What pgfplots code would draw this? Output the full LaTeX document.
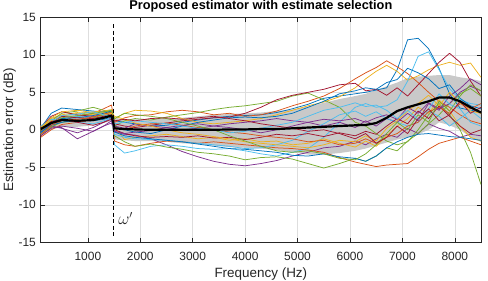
\documentclass[border=0pt]{standalone}
\usepackage{fontspec}
\setmainfont{Liberation Sans}
\usepackage{pgfplots}
\pgfplotsset{compat=1.18}
\usepgfplotslibrary{fillbetween}
\usepackage{pgfplotstable}
\definecolor{c1}{rgb}{0,0.447,0.741}
\definecolor{c2}{rgb}{0.85,0.325,0.098}
\definecolor{c3}{rgb}{0.929,0.694,0.125}
\definecolor{c4}{rgb}{0.494,0.184,0.556}
\definecolor{c5}{rgb}{0.466,0.674,0.188}
\definecolor{c6}{rgb}{0.301,0.745,0.933}
\definecolor{c7}{rgb}{0.635,0.078,0.184}
\pgfplotstableread{
f mean up lo
100 0.1 0.6 -0.6
300 0.9 1.6 0.0
500 1.3 2.0 0.4
800 1.2 2.0 0.4
1100 1.3 2.2 0.6
1300 1.6 2.5 0.9
1450 1.9 2.6 1.2
1510 0.2 1.6 -1.3
1700 0.1 1.4 -1.4
1900 0.05 1.4 -1.5
2200 0.0 1.4 -1.5
2500 0.0 1.5 -1.6
2800 0.0 1.6 -1.8
3100 0.0 1.8 -1.9
3400 0.0 2.0 -2.1
3700 0.05 2.1 -2.3
4000 0.05 2.2 -2.4
4300 0.1 2.3 -2.5
4600 0.1 2.5 -2.7
4900 0.2 2.7 -3.0
5200 0.3 3.1 -3.3
5500 0.4 3.6 -3.3
5800 0.5 4.1 -3.1
6100 0.6 4.5 -2.8
6300 0.65 4.8 -2.5
6500 0.9 5.3 -2.1
6700 1.6 5.8 -1.7
6900 2.5 6.3 -1.3
7100 3.0 6.9 -1.0
7300 3.4 7.1 -0.6
7500 3.8 7.2 0.0
7700 4.3 7.3 1.0
7900 4.3 7.3 0.6
8100 3.8 7.0 0.0
8300 3.0 6.8 -1.0
8500 2.3 6.5 -1.6
}\band
\begin{document}
\begin{tikzpicture}
\begin{axis}[
  scale only axis, width=440.3bp, height=225bp,
  xmin=100, xmax=8500, ymin=-15, ymax=15,
  xtick={1000,2000,3000,4000,5000,6000,7000,8000},
  ytick={-15,-10,-5,0,5,10,15},
  /pgf/number format/assume math mode=true,
  /pgf/number format/1000 sep={},
  tick label style={font=\fontsize{12}{14}\selectfont, color=black!85},
  xticklabel style={anchor=base, yshift=-17.7bp},
  yticklabel style={anchor=east, inner sep=0pt, xshift=-4.7bp},
  tick align=inside, major tick length=4.4bp,
  tick style={color=black!85, line width=0.5bp},
  axis line style={color=black!85, line width=0.6bp},
  grid=major, major grid style={line width=0.5bp, color=black!13},
  xlabel={Frequency (Hz)}, ylabel={Estimation error (dB)},
  label style={font=\fontsize{13.5}{15}\selectfont, color=black!85},
  xlabel style={at={(axis description cs:0.5,-0.1564)}, anchor=base},
  ylabel style={at={(axis description cs:-0.0627,0.5)}, anchor=base},
  title={Proposed estimator with estimate selection},
  title style={font=\fontsize{12.8}{14}\selectfont\bfseries, at={(axis description cs:0.5,1.007)}, anchor=base, inner sep=0pt},
  every axis plot/.append style={no markers, line width=0.75bp, line join=round},
]
\coordinate (bl) at (rel axis cs:0,0);
\coordinate (tr) at (rel axis cs:1,1);
\addplot[name path=up, draw=none] table[x=f, y=up] {\band};
\addplot[name path=lo, draw=none] table[x=f, y=lo] {\band};
\addplot[fill=black!21, draw=none] fill between[of=up and lo];

\addplot[c1] coordinates {(100,0.2)(300,2.2)(500,2.9)(800,2.7)(1100,2.5)(1300,2.4)(1450,2.5)(1510,1.2)(1700,1.0)(1900,0.8)(2200,0.5)(2500,0.6)(2800,1.0)(3100,1.3)(3400,1.6)(3700,1.8)(4000,1.9)(4300,2.0)(4600,2.3)(4900,2.8)(5200,3.4)(5500,4.2)(5800,4.5)(6100,4.8)(6300,5.0)(6500,5.3)(6700,5.6)(6900,8.0)(7100,12.0)(7300,12.2)(7500,10.8)(7700,8.2)(7900,4.8)(8100,2.9)(8300,2.6)(8500,2.4)};
\addplot[c2] coordinates {(100,-0.8)(300,0.3)(500,1.2)(800,1.8)(1100,2.2)(1300,2.8)(1450,3.3)(1510,1.0)(1700,1.6)(1900,1.9)(2200,2.0)(2500,2.4)(2800,2.6)(3100,2.4)(3400,2.0)(3700,2.2)(4000,1.8)(4300,2.0)(4600,2.5)(4900,3.2)(5200,3.8)(5500,4.5)(5800,5.5)(6100,6.8)(6300,7.6)(6500,8.3)(6700,9.2)(6900,8.4)(7100,7.5)(7300,6.3)(7500,5.0)(7700,3.8)(7900,3.0)(8100,2.0)(8300,1.2)(8500,0.8)};
\addplot[c3] coordinates {(100,0.1)(300,1.5)(500,2.0)(800,2.3)(1100,2.0)(1300,2.3)(1450,2.6)(1510,1.5)(1700,2.2)(1900,2.6)(2200,2.5)(2500,2.2)(2800,1.5)(3100,1.0)(3400,0.8)(3700,1.0)(4000,1.2)(4300,1.5)(4600,2.0)(4900,2.6)(5200,3.2)(5500,3.7)(5800,4.4)(6100,5.6)(6300,6.8)(6500,7.8)(6700,8.6)(6900,7.8)(7100,6.6)(7300,7.2)(7500,8.0)(7700,8.6)(7900,9.0)(8100,8.6)(8300,8.9)(8500,7.0)};
\addplot[c4] coordinates {(100,-0.3)(300,0.4)(500,0.3)(800,-1.2)(1100,-0.2)(1300,0.5)(1450,0.9)(1510,-0.3)(1700,-0.6)(1900,-0.7)(2200,-1.2)(2500,-2.0)(2800,-2.9)(3100,-3.6)(3400,-4.2)(3700,-4.6)(4000,-4.8)(4300,-4.5)(4600,-4.1)(4900,-3.5)(5200,-3.0)(5500,-2.4)(5800,-2.2)(6100,-1.5)(6300,-2.0)(6500,-1.2)(6700,-0.6)(6900,-1.0)(7100,0.2)(7300,-0.5)(7500,0.8)(7700,0.2)(7900,-0.2)(8100,-1.0)(8300,-0.6)(8500,-0.8)};
\addplot[c5] coordinates {(100,0.0)(300,1.2)(500,2.2)(800,2.5)(1100,3.0)(1300,2.6)(1450,2.4)(1510,0.5)(1700,1.2)(1900,1.5)(2200,1.3)(2500,1.7)(2800,2.0)(3100,2.3)(3400,2.7)(3700,3.0)(4000,3.2)(4300,3.5)(4600,3.8)(4900,4.5)(5200,4.9)(5500,4.0)(5800,3.0)(6100,1.0)(6300,0.5)(6500,-0.5)(6700,-1.5)(6900,-2.0)(7100,-1.6)(7300,0.0)(7500,2.0)(7700,3.5)(7900,2.0)(8100,0.0)(8300,-3.0)(8500,-7.3)};
\addplot[c6] coordinates {(100,-0.5)(300,0.5)(500,1.5)(800,1.8)(1100,1.5)(1300,1.8)(1450,2.0)(1510,-2.0)(1700,-3.1)(1900,-2.8)(2200,-2.2)(2500,-2.0)(2800,-2.2)(3100,-2.5)(3400,-2.6)(3700,-2.5)(4000,-2.8)(4300,-3.2)(4600,-3.5)(4900,-3.0)(5200,-2.5)(5500,-1.0)(5800,1.0)(6100,3.0)(6300,3.5)(6500,3.0)(6700,3.2)(6900,4.0)(7100,6.5)(7300,9.8)(7500,10.4)(7700,8.0)(7900,5.5)(8100,4.0)(8300,3.5)(8500,3.3)};
\addplot[c7] coordinates {(100,0.3)(300,1.8)(500,2.4)(800,2.0)(1100,1.8)(1300,2.0)(1450,2.4)(1510,0.8)(1700,0.5)(1900,0.3)(2200,0.6)(2500,0.9)(2800,1.2)(3100,1.4)(3400,1.6)(3700,1.7)(4000,2.2)(4300,3.0)(4600,4.0)(4900,4.6)(5200,5.0)(5500,5.4)(5800,6.0)(6100,6.2)(6300,5.2)(6500,5.4)(6700,4.6)(6900,5.6)(7100,4.5)(7300,6.0)(7500,7.5)(7700,9.0)(7900,10.2)(8100,9.0)(8300,6.5)(8500,4.5)};
\addplot[c1] coordinates {(100,-0.4)(300,0.8)(500,1.5)(800,1.6)(1100,1.9)(1300,2.2)(1450,2.5)(1510,0.2)(1700,0.0)(1900,-0.3)(2200,-0.5)(2500,0.0)(2800,0.5)(3100,1.0)(3400,1.3)(3700,1.6)(4000,1.7)(4300,1.6)(4600,1.8)(4900,2.2)(5200,3.0)(5500,3.8)(5800,4.8)(6100,5.2)(6300,5.6)(6500,5.4)(6700,6.3)(6900,6.7)(7100,8.2)(7300,7.6)(7500,6.8)(7700,5.5)(7900,6.0)(8100,4.2)(8300,3.2)(8500,2.8)};
\addplot[c2] coordinates {(100,-1.0)(300,0.0)(500,0.7)(800,1.0)(1100,1.4)(1300,1.7)(1450,2.0)(1510,-1.5)(1700,-2.0)(1900,-2.2)(2200,-1.8)(2500,-1.5)(2800,-1.6)(3100,-1.8)(3400,-1.6)(3700,-1.8)(4000,-2.0)(4300,-2.2)(4600,-2.4)(4900,-2.5)(5200,-2.7)(5500,-3.0)(5800,-3.7)(6100,-4.3)(6300,-4.6)(6500,-4.9)(6700,-4.7)(6900,-4.6)(7100,-4.5)(7300,-3.6)(7500,-2.6)(7700,-1.8)(7900,-1.4)(8100,-1.0)(8300,-1.5)(8500,-2.0)};
\addplot[c3] coordinates {(100,0.4)(300,1.2)(500,1.8)(800,2.2)(1100,2.4)(1300,2.5)(1450,2.7)(1510,0.3)(1700,-1.3)(1900,-1.0)(2200,-0.8)(2500,-0.6)(2800,-0.9)(3100,-1.2)(3400,-1.0)(3700,-1.4)(4000,-1.2)(4300,-1.6)(4600,-1.5)(4900,-2.0)(5200,-1.8)(5500,-1.2)(5800,-1.8)(6100,-2.3)(6300,-1.5)(6500,-2.2)(6700,-0.8)(6900,0.5)(7100,1.5)(7300,3.0)(7500,2.2)(7700,4.0)(7900,2.5)(8100,0.5)(8300,-1.0)(8500,-1.5)};
\addplot[c4] coordinates {(100,0.2)(300,0.5)(500,0.2)(800,-0.4)(1100,0.3)(1300,1.0)(1450,1.6)(1510,0.5)(1700,0.2)(1900,0.8)(2200,0.5)(2500,0.3)(2800,0.0)(3100,0.2)(3400,0.5)(3700,0.8)(4000,1.0)(4300,1.2)(4600,1.5)(4900,1.2)(5200,1.0)(5500,0.5)(5800,1.0)(6100,0.3)(6300,1.2)(6500,0.5)(6700,1.5)(6900,1.0)(7100,2.2)(7300,1.2)(7500,3.5)(7700,2.6)(7900,4.5)(8100,5.5)(8300,6.8)(8500,6.0)};
\addplot[c5] coordinates {(100,-0.6)(300,0.4)(500,1.0)(800,1.2)(1100,1.6)(1300,2.0)(1450,2.4)(1510,-0.8)(1700,-1.6)(1900,-2.2)(2200,-1.9)(2500,-2.3)(2800,-2.6)(3100,-3.0)(3400,-3.2)(3700,-3.5)(4000,-4.0)(4300,-3.7)(4600,-3.6)(4900,-3.9)(5200,-4.5)(5500,-5.1)(5800,-4.5)(6100,-3.8)(6300,-4.2)(6500,-3.5)(6700,-2.4)(6900,-2.8)(7100,-1.5)(7300,-0.5)(7500,0.8)(7700,2.0)(7900,3.5)(8100,4.8)(8300,5.5)(8500,4.5)};
\addplot[c6] coordinates {(100,0.5)(300,1.4)(500,1.2)(800,1.0)(1100,0.8)(1300,1.2)(1450,1.5)(1510,-0.6)(1700,-1.0)(1900,-1.2)(2200,-1.3)(2500,-1.4)(2800,-1.6)(3100,-1.8)(3400,-2.0)(3700,-2.2)(4000,-2.5)(4300,-2.4)(4600,-2.0)(4900,-1.4)(5200,-0.2)(5500,0.8)(5800,2.0)(6100,2.5)(6300,1.8)(6500,2.4)(6700,1.5)(6900,1.0)(7100,0.5)(7300,1.0)(7500,2.5)(7700,1.8)(7900,0.5)(8100,1.5)(8300,2.6)(8500,1.5)};
\addplot[c7] coordinates {(100,-0.2)(300,1.0)(500,1.8)(800,1.6)(1100,1.5)(1300,1.8)(1450,2.2)(1510,0.0)(1700,-0.5)(1900,-0.8)(2200,-1.0)(2500,-0.9)(2800,-1.0)(3100,-0.8)(3400,-1.1)(3700,-1.0)(4000,-1.3)(4300,-1.0)(4600,-0.6)(4900,-0.8)(5200,-0.5)(5500,-0.9)(5800,-0.4)(6100,-0.8)(6300,-0.2)(6500,-0.6)(6700,0.5)(6900,1.5)(7100,0.8)(7300,2.5)(7500,1.5)(7700,3.2)(7900,1.8)(8100,0.5)(8300,-0.5)(8500,0.0)};
\addplot[c1] coordinates {(100,-0.3)(300,0.6)(500,1.0)(800,1.3)(1100,1.2)(1300,1.4)(1450,1.7)(1510,-0.3)(1700,-0.8)(1900,-1.0)(2200,-1.2)(2500,-1.4)(2800,-1.6)(3100,-1.9)(3400,-2.2)(3700,-2.5)(4000,-2.6)(4300,-2.8)(4600,-3.0)(4900,-3.4)(5200,-3.5)(5500,-3.2)(5800,-3.6)(6100,-3.8)(6300,-4.2)(6500,-3.5)(6700,-2.4)(6900,-1.6)(7100,-1.0)(7300,-0.6)(7500,-0.5)(7700,-0.7)(7900,-0.9)(8100,-1.0)(8300,-1.2)(8500,-1.4)};
\addplot[c2] coordinates {(100,-0.6)(300,0.6)(500,1.3)(800,1.4)(1100,1.7)(1300,2.1)(1450,2.3)(1510,0.3)(1700,0.0)(1900,0.5)(2200,0.8)(2500,0.9)(2800,0.6)(3100,0.3)(3400,0.0)(3700,-0.3)(4000,-0.5)(4300,-0.8)(4600,-1.0)(4900,-1.2)(5200,-1.6)(5500,-1.4)(5800,-2.0)(6100,-1.8)(6300,-1.2)(6500,-1.8)(6700,-1.0)(6900,-0.5)(7100,0.5)(7300,1.0)(7500,2.4)(7700,3.0)(7900,2.2)(8100,3.5)(8300,2.8)(8500,3.5)};
\addplot[c3] coordinates {(100,0.2)(300,1.6)(500,2.4)(800,2.6)(1100,2.3)(1300,2.0)(1450,2.2)(1510,1.8)(1700,1.4)(1900,0.9)(2200,0.5)(2500,0.0)(2800,-0.4)(3100,-0.6)(3400,-0.9)(3700,-1.2)(4000,-1.6)(4300,-1.8)(4600,-2.0)(4900,-2.2)(5200,-2.4)(5500,-2.0)(5800,-1.4)(6100,-1.6)(6300,-0.8)(6500,-1.5)(6700,0.2)(6900,1.2)(7100,2.5)(7300,3.5)(7500,4.6)(7700,3.2)(7900,5.0)(8100,3.6)(8300,2.5)(8500,2.2)};
\addplot[c4] coordinates {(100,-0.8)(300,0.2)(500,0.5)(800,0.2)(1100,-0.2)(1300,0.5)(1450,1.2)(1510,-0.2)(1700,-0.5)(1900,-0.3)(2200,-0.1)(2500,0.3)(2800,0.6)(3100,0.8)(3400,0.5)(3700,0.3)(4000,0.0)(4300,-0.4)(4600,0.0)(4900,0.5)(5200,1.0)(5500,1.4)(5800,1.2)(6100,1.5)(6300,1.0)(6500,1.6)(6700,2.0)(6900,1.4)(7100,3.0)(7300,2.2)(7500,3.6)(7700,2.8)(7900,3.5)(8100,5.0)(8300,5.8)(8500,5.2)};
\addplot[c5] coordinates {(100,-0.1)(300,0.9)(500,1.6)(800,1.9)(1100,2.2)(1300,2.4)(1450,2.6)(1510,1.5)(1700,2.2)(1900,2.0)(2200,1.8)(2500,1.5)(2800,1.0)(3100,0.5)(3400,0.0)(3700,-0.8)(4000,-1.5)(4300,-2.2)(4600,-2.8)(4900,-3.0)(5200,-2.8)(5500,-3.2)(5800,-3.8)(6100,-4.0)(6300,-3.2)(6500,-2.0)(6700,-0.5)(6900,1.0)(7100,0.0)(7300,2.0)(7500,1.0)(7700,3.8)(7900,2.5)(8100,4.5)(8300,6.0)(8500,5.2)};
\addplot[c6] coordinates {(100,0.0)(300,1.0)(500,1.9)(800,2.1)(1100,2.4)(1300,2.0)(1450,1.8)(1510,0.8)(1700,1.0)(1900,1.2)(2200,1.0)(2500,0.8)(2800,0.5)(3100,0.2)(3400,0.0)(3700,-0.4)(4000,-0.2)(4300,0.2)(4600,0.6)(4900,1.0)(5200,1.8)(5500,2.6)(5800,3.0)(6100,3.6)(6300,3.1)(6500,3.3)(6700,2.6)(6900,1.5)(7100,2.6)(7300,1.4)(7500,2.8)(7700,4.8)(7900,3.4)(8100,2.8)(8300,1.0)(8500,0.5)};
\addplot[c7] coordinates {(100,0.0)(300,1.1)(500,1.4)(800,1.0)(1100,0.6)(1300,1.0)(1450,1.4)(1510,1.2)(1700,1.4)(1900,1.2)(2200,1.5)(2500,1.6)(2800,1.4)(3100,1.6)(3400,1.8)(3700,1.5)(4000,1.2)(4300,0.8)(4600,0.5)(4900,0.2)(5200,-0.2)(5500,0.0)(5800,-0.5)(6100,-1.2)(6300,-0.5)(6500,-1.8)(6700,-1.0)(6900,0.5)(7100,-0.5)(7300,1.5)(7500,2.8)(7700,1.2)(7900,2.0)(8100,3.8)(8300,2.2)(8500,3.0)};

\addplot[black, line width=2.2bp] table[x=f, y=mean] {\band};
\addplot[black, line width=0.9bp, dash pattern=on 4bp off 2.5bp] coordinates {(1480,14.1) (1480,-14.1)};
\node[color=black!85] at (axis cs:1720,-11.8) {\fontsize{16}{18}\selectfont$\omega'$};
\end{axis}
\pgfresetboundingbox
\path ([xshift=-40.7bp,yshift=-37.7bp]bl) rectangle ([xshift=7bp,yshift=17.3bp]tr);
\end{tikzpicture}
\end{document}
